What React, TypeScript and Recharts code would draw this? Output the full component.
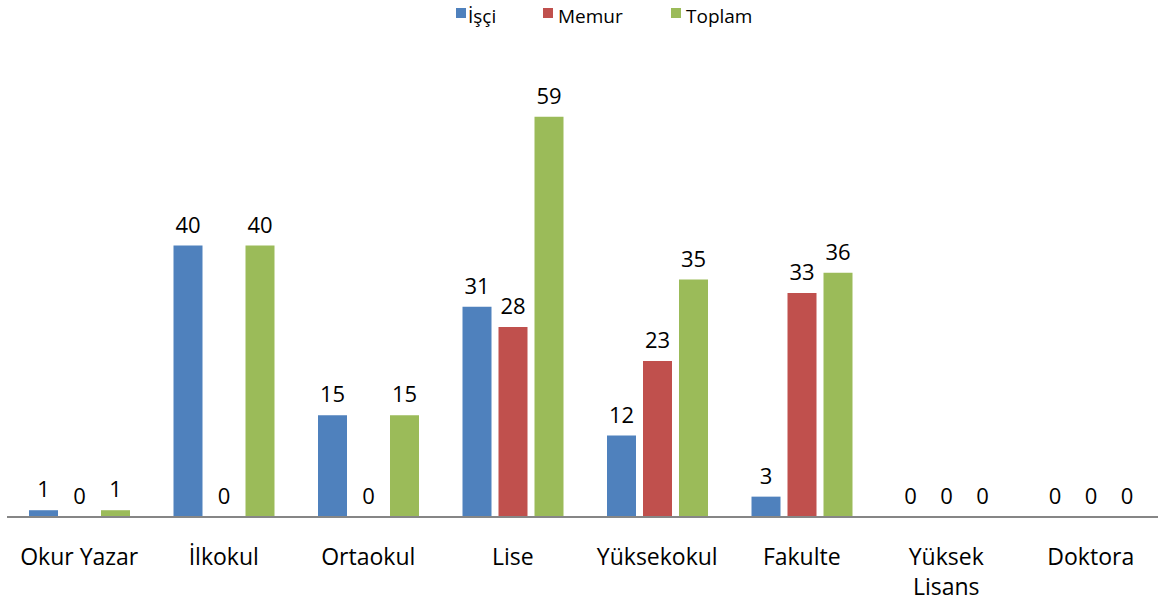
import React from "react";
import { BarChart, Bar, XAxis, YAxis, LabelList } from "recharts";

const categories = ["Okur Yazar", "İlkokul", "Ortaokul", "Lise", "Yüksekokul", "Fakulte", "Yüksek Lisans", "Doktora"];
const isci = [1, 40, 15, 31, 12, 3, 0, 0];
const memur = [0, 0, 0, 28, 23, 33, 0, 0];
const toplam = [1, 40, 15, 59, 35, 36, 0, 0];
const seriesNames = ["İşçi", "Memur", "Toplam"];
const colors = ["#4F81BD", "#C0504D", "#9BBB59"];

const data = categories.map((c, i) => ({ name: c, isci: isci[i], memur: memur[i], toplam: toplam[i] }));

const FONT = "'Open Sans', 'Noto Sans', sans-serif";
const legendLeft = [456, 543, 671];

const Tick = (props: any) => {
  const { x, y, payload } = props;
  const text: string = payload.value;
  const words = text.split(" ");
  const lines = words.length > 1 && text.length > 12 ? words : [text];
  return (
    <g transform={`translate(${x},${y})`}>
      <text textAnchor="middle" fill="#000" fontSize={23} fontFamily={FONT}>
        {lines.map((l, i) => (
          <tspan key={i} x={0} dy={i === 0 ? 40 : 30}>{l}</tspan>
        ))}
      </text>
    </g>
  );
};

const LegendBox = () => (
  <div style={{ position: "absolute", top: 3, left: 0, width: 1158, height: 26, fontFamily: FONT, fontSize: 19, color: "#000", lineHeight: "26px" }}>
    {seriesNames.map((n, i) => (
      <div key={n} style={{ position: "absolute", left: legendLeft[i], top: 0, display: "flex", alignItems: "center" }}>
        <span style={{ display: "inline-block", width: 10, height: 10, background: colors[i], marginRight: i === 0 ? 2 : 5, marginTop: -6 }} />
        <span>{n}</span>
      </div>
    ))}
  </div>
);

export default function App() {
  const keys = ["isci", "memur", "toplam"];
  return (
    <div style={{ position: "absolute", left: 0, top: 0, width: 1158, height: 602, overflow: "hidden", background: "#fff" }}>
      <BarChart width={1170} height={602} data={data} margin={{ top: 42, right: 7, bottom: 55, left: 7 }} barSize={29} barGap={7}>
        <XAxis dataKey="name" axisLine={{ stroke: "#868686", strokeWidth: 2 }} tickLine={false} tick={<Tick />} interval={0} />
        <YAxis hide domain={[0, 70]} />
        {keys.map((k, i) => (
          <Bar key={k} dataKey={k} name={seriesNames[i]} fill={colors[i]} isAnimationActive={false} minPointSize={0.01}>
            <LabelList dataKey={k} position="top" offset={13} fill="#000" fontSize={22} fontFamily={FONT} />
          </Bar>
        ))}
      </BarChart>
      <LegendBox />
    </div>
  );
}
